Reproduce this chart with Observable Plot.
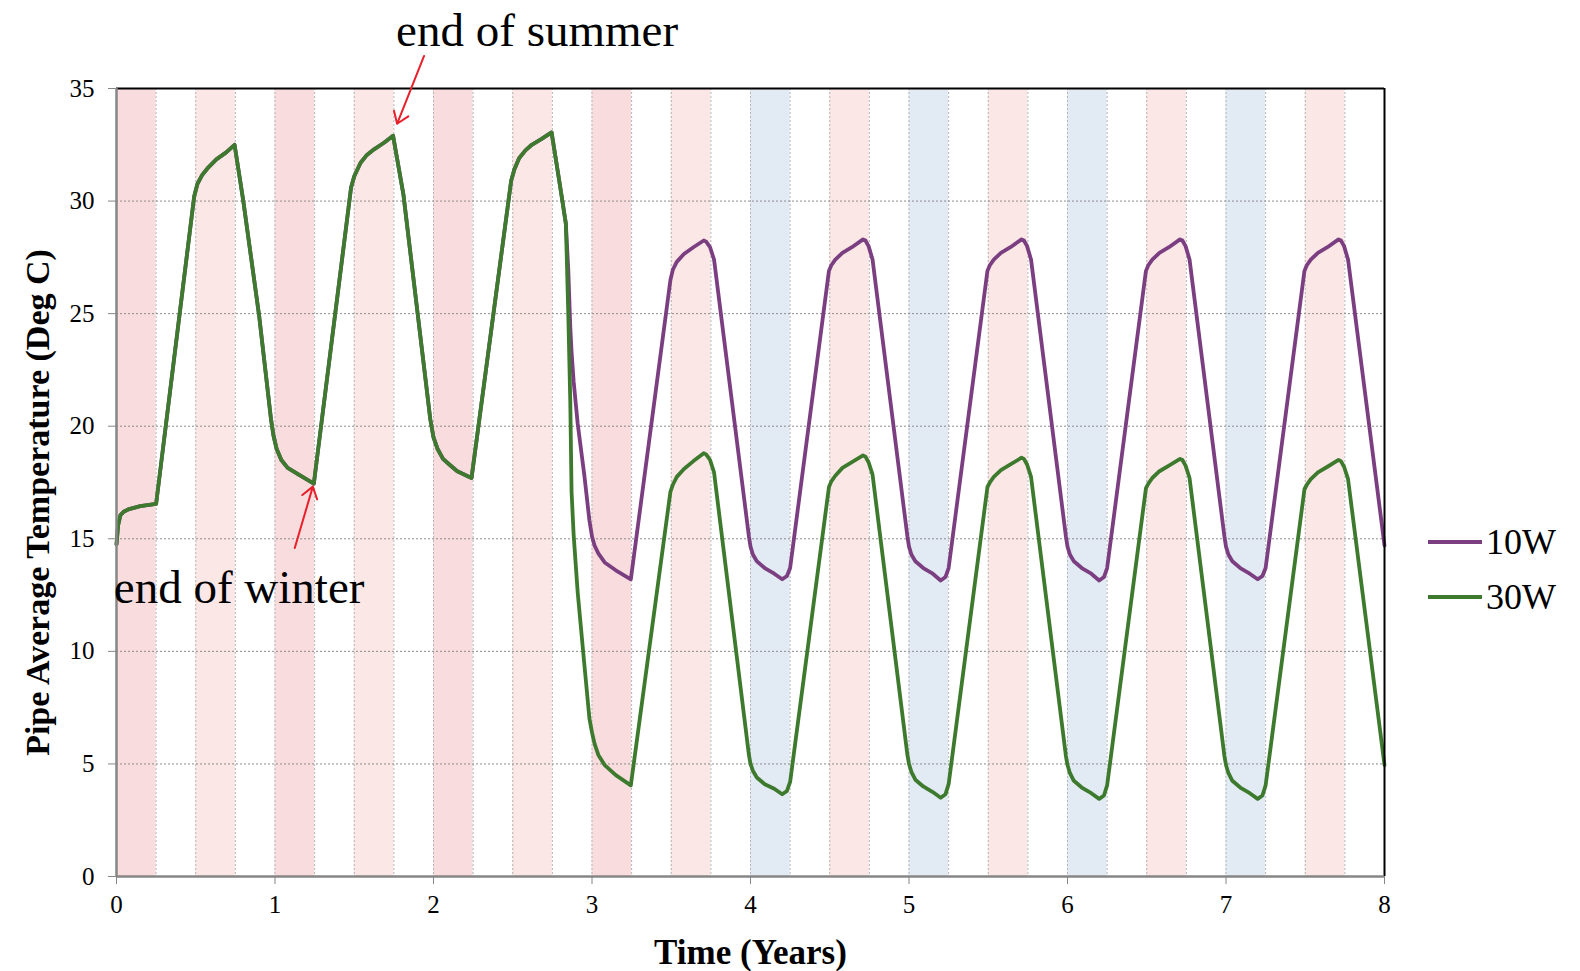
<!DOCTYPE html>
<html>
<head>
<meta charset="utf-8">
<script src="https://cdn.jsdelivr.net/npm/d3@7"></script>
<script src="https://cdn.jsdelivr.net/npm/@observablehq/plot@0.6"></script>
<style>
  html, body { margin: 0; padding: 0; background: #fff; }
  #wrap { position: relative; width: 1580px; height: 971px; font-family: "Liberation Serif", "Times New Roman", serif; }
  #legend { position: absolute; left: 1400px; top: 500px; }
</style>
</head>
<body>
<div id="wrap"></div>
<script>
// ---- data ----
// first 2.8 years: both loads give the same pipe temperature
const yearsEarly = [
  0.000, 0.010, 0.025, 0.045, 0.080, 0.150, 0.250,
  0.490, 0.510, 0.540, 0.580, 0.630, 0.690, 0.745, 0.800, 0.900,
  0.975, 0.990, 1.010, 1.040, 1.080, 1.150, 1.245,
  1.480, 1.500, 1.540, 1.580, 1.625, 1.690, 1.745, 1.810, 1.900,
  1.980, 2.000, 2.025, 2.060, 2.100, 2.150, 2.240,
  2.490, 2.510, 2.540, 2.580, 2.620, 2.680, 2.745, 2.800
];
const tempEarly = [
  14.75, 15.6, 16.05, 16.2, 16.32, 16.45, 16.55,
  30.2, 30.75, 31.15, 31.5, 31.85, 32.15, 32.5, 30.0, 24.9,
  20.3, 19.6, 19.0, 18.5, 18.15, 17.85, 17.45,
  30.6, 31.1, 31.7, 32.05, 32.3, 32.6, 32.9, 30.3, 25.0,
  20.3, 19.5, 19.0, 18.55, 18.3, 18.0, 17.7,
  30.9, 31.4, 31.9, 32.25, 32.5, 32.75, 33.05, 30.6
];
// from 2.835 years on the two loads diverge
const yearsLate = [
  2.835, 2.850, 2.863, 2.871, 2.884, 2.910, 2.952, 2.984, 3.000, 3.016, 3.040, 3.080, 3.150, 3.245,
  3.495, 3.510, 3.535, 3.580, 3.640, 3.705, 3.720, 3.745, 3.770, 3.990,
  4.000, 4.015, 4.040, 4.090, 4.150, 4.200, 4.230, 4.250,
  4.495, 4.510, 4.535, 4.580, 4.640, 4.710, 4.725, 4.745, 4.770, 4.990,
  5.000, 5.015, 5.040, 5.090, 5.150, 5.200, 5.230, 5.250,
  5.495, 5.510, 5.535, 5.580, 5.640, 5.710, 5.725, 5.745, 5.770, 5.990,
  6.000, 6.015, 6.040, 6.090, 6.150, 6.200, 6.230, 6.250,
  6.495, 6.510, 6.535, 6.580, 6.640, 6.710, 6.725, 6.745, 6.770, 6.990,
  7.000, 7.015, 7.040, 7.090, 7.150, 7.200, 7.230, 7.250,
  7.495, 7.510, 7.535, 7.580, 7.640, 7.710, 7.725, 7.745, 7.770,
  8.000
];
const late10W = [
  29.0, 27.0, 24.4, 23.3, 22.0, 20.1, 17.8, 15.8, 15.1, 14.7, 14.35, 13.95, 13.6, 13.2,
  26.5, 26.95, 27.3, 27.65, 27.95, 28.25, 28.2, 27.95, 27.4, 15.1,
  14.65, 14.3, 14.0, 13.7, 13.45, 13.2, 13.35, 13.7,
  26.9, 27.15, 27.4, 27.7, 27.95, 28.3, 28.25, 28.0, 27.4, 15.1,
  14.65, 14.3, 14.0, 13.7, 13.45, 13.15, 13.3, 13.7,
  26.9, 27.15, 27.4, 27.7, 27.95, 28.3, 28.25, 28.0, 27.4, 15.1,
  14.65, 14.3, 14.0, 13.7, 13.45, 13.15, 13.3, 13.7,
  26.9, 27.15, 27.4, 27.7, 27.95, 28.3, 28.25, 28.0, 27.4, 15.1,
  14.65, 14.3, 14.0, 13.7, 13.45, 13.2, 13.35, 13.7,
  26.9, 27.15, 27.4, 27.7, 27.95, 28.3, 28.25, 28.0, 27.4,
  14.7
];
const late30W = [
  29.0, 25.1, 21.1, 17.1, 15.2, 12.6, 9.4, 7.0, 6.4, 5.9, 5.4, 4.95, 4.5, 4.05,
  17.1, 17.4, 17.75, 18.1, 18.45, 18.8, 18.75, 18.5, 17.95, 5.4,
  5.0, 4.7, 4.4, 4.1, 3.9, 3.65, 3.8, 4.2,
  17.3, 17.55, 17.8, 18.15, 18.4, 18.7, 18.65, 18.4, 17.85, 5.4,
  5.0, 4.65, 4.3, 4.0, 3.75, 3.5, 3.65, 4.1,
  17.3, 17.5, 17.75, 18.05, 18.3, 18.6, 18.55, 18.3, 17.75, 5.35,
  4.95, 4.6, 4.25, 3.95, 3.7, 3.45, 3.6, 4.05,
  17.25, 17.45, 17.7, 18.0, 18.25, 18.55, 18.5, 18.25, 17.7, 5.35,
  4.95, 4.6, 4.25, 3.95, 3.7, 3.45, 3.6, 4.05,
  17.2, 17.4, 17.65, 17.95, 18.2, 18.5, 18.45, 18.2, 17.65,
  4.95
];
const seriesNames = ["10W", "30W"];
const seriesColors = ["#7b3f81", "#3d7a2e"];

// shaded seasons: start year of each quarter-year band and its kind
const bandStart = [0, 0.5, 1, 1.5, 2, 2.5, 3, 3.5, 4, 4.5, 5, 5.5, 6, 6.5, 7, 7.5];
const bandKind  = ["winter", "summer", "winter", "summer", "winter", "summer", "winter", "summer",
                   "cold", "summer", "cold", "summer", "cold", "summer", "cold", "summer"];
const bandColors = {winter: "#f9dcde", summer: "#fbe7e6", cold: "#e2eaf4"};

const xTicks = [0, 1, 2, 3, 4, 5, 6, 7, 8];
const yTicks = [0, 5, 10, 15, 20, 25, 30, 35];
const xGrid = d3.range(0.25, 8, 0.25);

const xLabel = "Time (Years)";
const yLabel = "Pipe Average Temperature (Deg C)";
const notes = [
  {label: "end of summer", at: 1.745},
  {label: "end of winter", at: 1.245}
];

// ---- tables ----
const rows = [];
seriesNames.forEach((s, k) => {
  yearsEarly.forEach((t, i) => rows.push({t, v: tempEarly[i], s}));
  const late = k === 0 ? late10W : late30W;
  yearsLate.forEach((t, i) => rows.push({t, v: late[i], s}));
});
const bands = bandStart.map((b, i) => ({x1: b, x2: b + 0.25, kind: bandKind[i]}));
const notePts = notes.map(n => ({...n, t: n.at, v: tempEarly[yearsEarly.indexOf(n.at)]}));
const summer = notePts.filter(d => d.label === "end of summer");
const winter = notePts.filter(d => d.label === "end of winter");

const arrowShape = {
  draw(context, l) {
    const w = 11;
    context.moveTo(0, 0);
    context.lineTo(0, -l);
    context.moveTo(-w * 0.7, -l + w);
    context.lineTo(0, -l);
    context.lineTo(w * 0.7, -l + w);
  }
};

const serif = "Liberation Serif";

const chart = Plot.plot({
  width: 1580,
  height: 971,
  marginLeft: 116,
  marginRight: 196,
  marginTop: 88,
  marginBottom: 95,
  style: {fontFamily: serif, background: "transparent", overflow: "visible"},
  x: {domain: [0, 8]},
  y: {domain: [0, 35]},
  color: {domain: seriesNames, range: seriesColors},
  marks: [
    Plot.rect(bands, {x1: "x1", x2: "x2", y1: 0, y2: 35, fill: d => bandColors[d.kind]}),
    Plot.ruleX(xGrid, {stroke: "#b5b5b5", strokeDasharray: "2,2", strokeWidth: 1}),
    Plot.ruleY(yTicks.filter(d => d > 0 && d < 35), {stroke: "#8c8c8c", strokeDasharray: "2,2", strokeWidth: 1}),
    Plot.line(rows, {x: "t", y: "v", z: "s", stroke: "s", strokeWidth: 3.8, curve: "linear", strokeLinejoin: "round"}),
    Plot.ruleY([35], {stroke: "#000", strokeWidth: 2}),
    Plot.ruleX([8], {stroke: "#000", strokeWidth: 2}),
    Plot.ruleY([0], {stroke: "#868686", strokeWidth: 2.5}),
    Plot.ruleX([0], {stroke: "#868686", strokeWidth: 2.5}),
    Plot.axisY({ticks: yTicks, tickSize: 8, tickPadding: 14, fontSize: 25, stroke: "#868686", label: null, tickFormat: d => d}),
    Plot.axisX({ticks: xTicks, tickSize: 8, tickPadding: 11, fontSize: 25, stroke: "#868686", label: null, tickFormat: d => d}),
    Plot.text([xLabel], {frameAnchor: "bottom", dy: 87, lineAnchor: "bottom", fontSize: 35, fontWeight: "bold", fill: "#000"}),
    Plot.text([yLabel], {frameAnchor: "left", textAnchor: "middle", rotate: -90, dx: -78, dy: 20, fontSize: 34, fontWeight: "bold", fill: "#000"}),
    Plot.vector(summer, {x: "t", y: "v", anchor: "end", length: 73, rotate: 201.7, dx: 4, dy: -12,
                         shape: arrowShape, stroke: "#e8202a", strokeWidth: 2}),
    Plot.vector(winter, {x: "t", y: "v", anchor: "end", length: 64, rotate: 16.4, dx: -1, dy: 3,
                         shape: arrowShape, stroke: "#e8202a", strokeWidth: 2}),
    Plot.text(summer, {x: "t", y: "v", text: "label", dx: 144, dy: -90, textAnchor: "middle", lineAnchor: "bottom",
                       fontSize: 47, fill: "#000"}),
    Plot.text(winter, {x: "t", y: "v", text: "label", dx: -200, dy: 119, textAnchor: "start", lineAnchor: "bottom",
                       fontSize: 47, fill: "#000"})
  ]
});
document.getElementById("wrap").appendChild(chart);

// legend (SVG overlay to the right of the plot)
const leg = d3.select("#wrap").append("svg").attr("id", "legend").attr("width", 180).attr("height", 130);
seriesNames.forEach((name, i) => {
  const y = 42 + i * 55;
  leg.append("line").attr("x1", 28).attr("x2", 82).attr("y1", y).attr("y2", y)
    .attr("stroke", seriesColors[i]).attr("stroke-width", 4);
  leg.append("text").attr("x", 86).attr("y", y + 12).attr("font-size", 36)
    .attr("font-family", serif).attr("fill", "#000").text(name);
});
</script>
</body>
</html>
